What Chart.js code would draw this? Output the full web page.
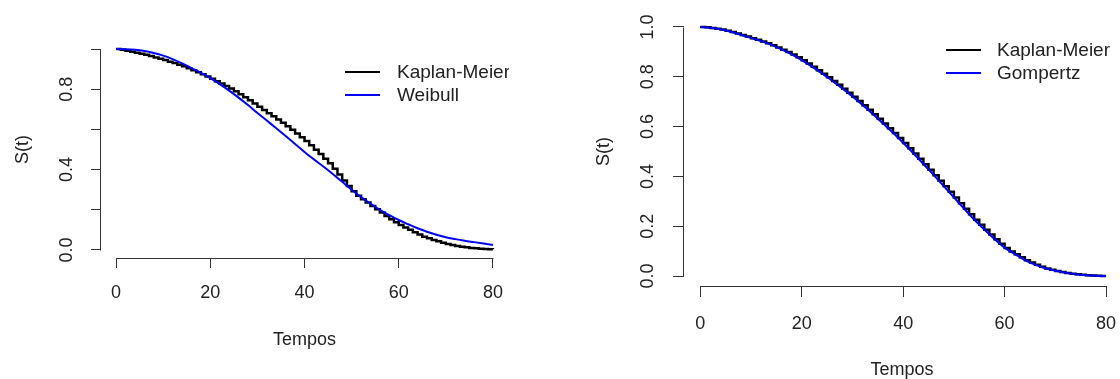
<!DOCTYPE html>
<html><head><meta charset="utf-8">
<script src="https://cdn.jsdelivr.net/npm/chart.js@4.4.1/dist/chart.umd.min.js"></script>
<style>
html,body{margin:0;padding:0;background:#fff;width:1120px;height:379px;overflow:hidden;}
canvas{position:absolute;top:0;}
</style></head><body>
<canvas id="cL" width="509" height="379" style="left:0px"></canvas>
<canvas id="cR" width="560" height="379" style="left:560px"></canvas>
<script>
// ---------- data ----------
const xTickValues = [0, 20, 40, 60, 80];
const xTickLabels = ['0', '20', '40', '60', '80'];
const yTickValues = [0, 0.2, 0.4, 0.6, 0.8, 1.0];
const leftYTickLabels = ['0.0', '', '0.4', '', '0.8', ''];
const rightYTickLabels = ['0.0', '0.2', '0.4', '0.6', '0.8', '1.0'];
const xTitle = 'Tempos';
const yTitle = 'S(t)';
const leftSeriesNames = ['Kaplan-Meier', 'Weibull'];
const rightSeriesNames = ['Kaplan-Meier', 'Gompertz'];

const kmTimes = [0,1,2,3,4,5,6,7,8,9,10,11,12,13,14,15,16,17,18,19,20,21,22,23,24,25,26,27,28,29,30,31,32,33,34,35,36,37,38,39,40,41,42,43,44,45,46,47,48,49,50,51,52,53,54,55,56,57,58,59,60,61,62,63,64,65,66,67,68,69,70,71,72,73,74,75,76,77,78,79,80];

const leftKM = [1.000,0.996,0.991,0.987,0.982,0.977,0.971,0.965,0.958,0.952,
  0.945,0.937,0.930,0.922,0.914,0.905,0.895,0.885,0.874,0.863,
  0.852,0.840,0.828,0.816,0.803,0.790,0.775,0.760,0.745,0.729,
  0.713,0.697,0.681,0.665,0.649,0.633,0.616,0.598,0.580,0.561,
  0.542,0.521,0.499,0.477,0.454,0.431,0.404,0.375,0.346,0.318,
  0.292,0.270,0.252,0.236,0.219,0.203,0.186,0.169,0.153,0.138,
  0.124,0.112,0.100,0.088,0.077,0.066,0.058,0.050,0.043,0.036,
  0.030,0.025,0.020,0.016,0.013,0.010,0.008,0.006,0.005,0.004,
  0.003];

const modelTimes = [0,2,4,6,8,10,12,14,16,18,20,22,24,26,28,30,32,34,36,38,40,42,44,46,48,50,52,54,56,58,60,62,64,66,68,70,72,74,76,78,80];

const leftWeibull = [1.000,0.999,0.996,0.990,0.980,0.967,0.950,0.929,0.905,0.881,
  0.855,0.825,0.793,0.758,0.721,0.682,0.644,0.606,0.567,0.527,
  0.488,0.451,0.415,0.378,0.339,0.300,0.263,0.230,0.200,0.173,
  0.149,0.128,0.108,0.091,0.076,0.063,0.054,0.046,0.039,0.032,
  0.025];

const rightKM = [1.000,0.999,0.996,0.993,0.990,0.985,0.980,0.974,0.968,0.962,
  0.955,0.949,0.942,0.935,0.927,0.918,0.909,0.899,0.889,0.878,
  0.866,0.853,0.840,0.826,0.812,0.798,0.783,0.768,0.752,0.736,
  0.720,0.703,0.686,0.668,0.650,0.631,0.612,0.593,0.574,0.554,
  0.534,0.513,0.492,0.471,0.449,0.427,0.405,0.383,0.360,0.338,
  0.315,0.292,0.270,0.248,0.226,0.206,0.186,0.167,0.148,0.130,
  0.113,0.099,0.087,0.075,0.063,0.054,0.045,0.037,0.030,0.025,
  0.020,0.016,0.012,0.009,0.007,0.005,0.003,0.002,0.001,0.000,
  0.000];

const rightGompertz = [1.000,0.997,0.991,0.981,0.969,0.956,0.943,0.928,0.910,0.890,
  0.867,0.841,0.813,0.784,0.753,0.721,0.687,0.651,0.613,0.575,
  0.535,0.493,0.450,0.406,0.361,0.316,0.271,0.227,0.187,0.149,
  0.114,0.088,0.064,0.046,0.031,0.021,0.013,0.007,0.003,0.001,
  0.000];

// ---------- style ----------
const TXT = '#222222';
const AX = '#333333';
const BLUE = '#0000ff';
const FONT = "'Liberation Sans', Arial, Helvetica, sans-serif";

// R-style detached axis lines (from first to last tick)
const rAxes = {
  id: 'rAxes',
  afterDraw(chart, args, o) {
    const {ctx, chartArea} = chart;
    const x = chart.scales.x, y = chart.scales.y;
    ctx.save();
    ctx.strokeStyle = o.color; ctx.lineWidth = 1;
    ctx.beginPath();
    const by = Math.round(chartArea.bottom) + 0.5;
    ctx.moveTo(Math.round(x.getPixelForValue(o.xFrom)) + 0.5, by);
    ctx.lineTo(Math.round(x.getPixelForValue(o.xTo)) + 0.5, by);
    const lx = Math.round(chartArea.left) - 0.5;
    ctx.moveTo(lx, Math.round(y.getPixelForValue(o.yFrom)) + 0.5);
    ctx.lineTo(lx, Math.round(y.getPixelForValue(o.yTo)) + 0.5);
    ctx.stroke();
    ctx.restore();
  }
};

const rLegend = {
  id: 'rLegend',
  afterDraw(chart, args, o) {
    const ctx = chart.ctx;
    ctx.save();
    o.names.forEach((name, i) => {
      const ds = chart.data.datasets.find(d => d.label === name);
      const yy = o.y + i * o.spacing;
      ctx.strokeStyle = ds.borderColor; ctx.lineWidth = o.lineWidth;
      ctx.beginPath(); ctx.moveTo(o.x, yy); ctx.lineTo(o.x + o.len, yy); ctx.stroke();
      ctx.fillStyle = TXT;
      ctx.font = o.fontSize + 'px ' + FONT;
      ctx.textBaseline = 'middle'; ctx.textAlign = 'left';
      ctx.fillText(name, o.x + o.len + o.gap, yy + 1);
    });
    ctx.restore();
  }
};

function makeChart(canvas, c) {
  return new Chart(canvas, {
    type: 'line',
    data: {
      datasets: [
        { label: c.names[1], data: c.modelTimes.map((t, i) => ({x: t, y: c.model[i]})),
          borderColor: BLUE, borderWidth: 2, pointRadius: 0, cubicInterpolationMode: 'monotone', fill: false, order: 0 },
        { label: c.names[0], data: c.kmTimes.map((t, i) => ({x: t, y: c.km[i]})),
          borderColor: '#000000', borderWidth: 2.5, pointRadius: 0, stepped: true, fill: false, order: 1 }
      ]
    },
    options: {
      responsive: false, animation: false, devicePixelRatio: 1,
      layout: { padding: { top: c.top, right: c.right, bottom: 0, left: 0 } },
      plugins: {
        legend: { display: false }, tooltip: { enabled: false },
        rAxes: { color: AX, xFrom: xTickValues[0], xTo: xTickValues[xTickValues.length - 1],
                 yFrom: yTickValues[0], yTo: yTickValues[yTickValues.length - 1] },
        rLegend: c.legend
      },
      scales: {
        x: {
          type: 'linear', min: c.xMin, max: c.xMax,
          afterBuildTicks: a => { a.ticks = xTickValues.map(v => ({value: v})); },
          afterFit: a => { a.height = c.xH; a.paddingLeft = 0; a.paddingRight = 0; },
          ticks: { autoSkip: false, minRotation: 0, maxRotation: 0, padding: c.xTickPad, color: TXT,
                   font: { family: FONT, size: 18, lineHeight: 1.2 },
                   callback: (v, i) => xTickLabels[i] },
          grid: { drawOnChartArea: false, drawTicks: true, tickLength: c.tl, color: AX, lineWidth: 1 },
          border: { display: false },
          title: { display: true, text: xTitle, color: TXT, font: { family: FONT, size: 18, lineHeight: 1.2 },
                   padding: { top: 0, bottom: c.xTitlePad } }
        },
        y: {
          type: 'linear', min: -0.04, max: 1.04,
          afterBuildTicks: a => { a.ticks = yTickValues.map(v => ({value: v})); },
          afterFit: a => { a.width = c.yW; a.paddingTop = 0; a.paddingBottom = 0; },
          ticks: { autoSkip: false, minRotation: 90, maxRotation: 90, crossAlign: 'center', padding: c.yTickPad, color: TXT,
                   font: { family: FONT, size: 18, lineHeight: 1.2 },
                   callback: (v, i) => c.yLabels[i] },
          grid: { drawOnChartArea: false, drawTicks: true, tickLength: c.tl, color: AX, lineWidth: 1 },
          border: { display: false },
          title: { display: true, text: yTitle, color: TXT, font: { family: FONT, size: 18, lineHeight: 1.2 },
                   padding: { top: c.yTitlePad, bottom: 0 } }
        }
      }
    },
    plugins: [rAxes, rLegend]
  });
}

makeChart(document.getElementById('cL'), {
  names: leftSeriesNames, kmTimes: kmTimes, km: leftKM, modelTimes: modelTimes, model: leftWeibull,
  yLabels: leftYTickLabels,
  top: 41, right: 1, xMin: -3.2, xMax: 83.2, xH: 121, yW: 101, tl: 10,
  xTickPad: 14, yTickPad: 11, xTitlePad: 28, yTitlePad: 12,
  legend: { names: leftSeriesNames, x: 345, y: 72, spacing: 23, len: 35, gap: 17, lineWidth: 2, fontSize: 19 }
});

makeChart(document.getElementById('cR'), {
  names: rightSeriesNames, kmTimes: kmTimes, km: rightKM, modelTimes: modelTimes, model: rightGompertz,
  yLabels: rightYTickLabels,
  top: 17, right: 0, xMin: -3.2, xMax: 82.75, xH: 93, yW: 124, tl: 11,
  xTickPad: 16, yTickPad: 12, xTitlePad: -2, yTitlePad: 33,
  legend: { names: rightSeriesNames, x: 386, y: 50, spacing: 23, len: 35, gap: 16, lineWidth: 2, fontSize: 19 }
});
</script>
</body></html>
